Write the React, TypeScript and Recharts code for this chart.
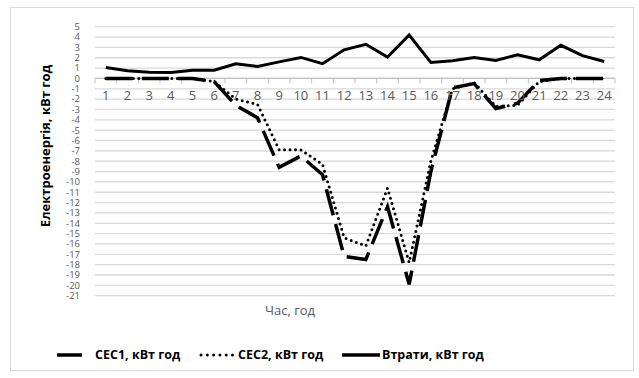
import { LineChart, Line, XAxis, YAxis, CartesianGrid, ReferenceLine, ReferenceDot } from 'recharts'

const HOURS = ['1', '2', '3', '4', '5', '6', '7', '8', '9', '10', '11', '12', '13', '14', '15', '16', '17', '18', '19', '20', '21', '22', '23', '24']

const CEC1 = [0, 0, 0, 0, 0, -0.3, -2.6, -3.8, -8.6, -7.5, -9.3, -17.2, -17.5, -12.4, -19.9, -9, -0.9, -0.5, -2.9, -2.4, -0.2, 0, 0, 0]
const CEC2 = [0, 0, 0, 0, 0, -0.3, -2.0, -2.5, -6.9, -6.9, -8.3, -15.4, -16.2, -10.6, -17.8, -8, -1, -0.4, -2.7, -2.6, -0.3, 0, 0, 0]
const LOSSES = [1.06, 0.74, 0.6, 0.58, 0.8, 0.8, 1.42, 1.16, 1.6, 2.03, 1.42, 2.77, 3.3, 2.07, 4.2, 1.55, 1.7, 2.03, 1.74, 2.29, 1.8, 3.2, 2.2, 1.64]

const Y_TICKS = [5, 4, 3, 2, 1, 0, -1, -2, -3, -4, -5, -6, -7, -8, -9, -10, -11, -12, -13, -14, -15, -16, -17, -18, -19, -20, -21]

const LABELS = {
  cec1: 'СЕС1, кВт год',
  cec2: 'СЕС2, кВт год',
  losses: 'Втрати, кВт год',
}

const FONT = "'Open Sans', 'Noto Sans', sans-serif"
const GRAY = '#595959'

const data = HOURS.map((h, i) => ({
  hour: h,
  cec1: CEC1[i],
  cec2: CEC2[i],
  losses: LOSSES[i],
}))

// zero line with small category tick marks hanging below it
function ZeroAxis(props: any) {
  const { x1, y1, x2, y2 } = props
  if (x1 == null) return null
  const n = HOURS.length
  const step = (x2 - x1) / n
  const marks = []
  for (let i = 0; i <= n; i++) {
    const x = x1 + step * i
    marks.push(<line key={i} x1={x} x2={x} y1={y1} y2={y1 + 5} stroke="#bfbfbf" strokeWidth={1} />)
  }
  return (
    <g>
      <line x1={x1} y1={y1} x2={x2} y2={y2} stroke="#bfbfbf" strokeWidth={1.3} />
      {marks}
    </g>
  )
}

function LegendItem({ kind, label, left }: { kind: string; label: string; left: number }) {
  let icon
  if (kind === 'cec1') {
    icon = (
      <svg width={30} height={8}>
        <line x1={2} y1={4} x2={27} y2={4} stroke="#000" strokeWidth={3.5} />
      </svg>
    )
  } else if (kind === 'cec2') {
    icon = (
      <svg width={40} height={8}>
        <line x1={3} y1={4} x2={38} y2={4} stroke="#000" strokeWidth={3} strokeDasharray="0 6.3" strokeLinecap="round" />
      </svg>
    )
  } else {
    icon = (
      <svg width={40} height={8}>
        <line x1={0} y1={4} x2={38} y2={4} stroke="#000" strokeWidth={3.5} />
      </svg>
    )
  }
  return (
    <div style={{ position: 'absolute', left, top: 346, display: 'flex', alignItems: 'center', gap: kind === 'cec1' ? 10 : 0 }}>
      {icon}
      <span style={{ fontFamily: FONT, fontWeight: 700, fontSize: 12.5, color: '#000', whiteSpace: 'nowrap' }}>{label}</span>
    </div>
  )
}

export default function App() {
  return (
    <div style={{ position: 'absolute', left: 0, top: 0, width: 639, height: 378, background: '#fff', overflow: 'hidden' }}>
      <div style={{ position: 'absolute', left: 10, top: 7, width: 624, height: 364, border: '1px solid #d9d9d9', boxSizing: 'border-box' }} />
      <div style={{ position: 'absolute', left: 0, top: 0 }}>
        <LineChart width={639} height={378} data={data} margin={{ top: 26.7, right: 24, bottom: 82.3, left: 0 }}>
          <CartesianGrid vertical={false} stroke="#d9d9d9" strokeWidth={1.3} />
          <XAxis dataKey="hour" scale="band" hide />
          <YAxis
            width={95}
            domain={[-21, 5]}
            ticks={Y_TICKS}
            interval={0}
            axisLine={false}
            tickLine={false}
            tickMargin={9}
            tick={{ fill: GRAY, fontSize: 9.5, fontFamily: FONT }}
          />
          <ReferenceLine y={0} shape={ZeroAxis} />
          {HOURS.map((h) => (
            <ReferenceDot
              key={h}
              x={h}
              y={0}
              r={0}
              fill="none"
              stroke="none"
              label={{ value: h, position: 'bottom', offset: 12, fill: GRAY, fontSize: 13, fontFamily: FONT }}
            />
          ))}
          <Line
            dataKey="cec1"
            name={LABELS.cec1}
            stroke="#000"
            strokeWidth={3.5}
            strokeDasharray="27 9"
            dot={false}
            isAnimationActive={false}
          />
          <Line
            dataKey="cec2"
            name={LABELS.cec2}
            stroke="#000"
            strokeWidth={3}
            strokeDasharray="0 5.5"
            strokeLinecap="round"
            dot={false}
            isAnimationActive={false}
          />
          <Line
            dataKey="losses"
            name={LABELS.losses}
            stroke="#000"
            strokeWidth={3}
            strokeLinejoin="miter"
            dot={false}
            isAnimationActive={false}
          />
        </LineChart>
      </div>
      <div
        style={{
          position: 'absolute',
          left: 45,
          top: 146,
          transform: 'translate(-50%, -50%) rotate(-90deg)',
          fontFamily: FONT,
          fontWeight: 700,
          fontSize: 13,
          color: '#000',
          whiteSpace: 'nowrap',
        }}
      >
        Електроенергія, кВт год
      </div>
      <div
        style={{
          position: 'absolute',
          left: 290,
          top: 310,
          transform: 'translate(-50%, -50%)',
          fontFamily: FONT,
          fontSize: 13,
          color: GRAY,
          whiteSpace: 'nowrap',
        }}
      >
        Час, год
      </div>
      <LegendItem kind="cec1" label={LABELS.cec1} left={55} />
      <LegendItem kind="cec2" label={LABELS.cec2} left={198} />
      <LegendItem kind="losses" label={LABELS.losses} left={342} />
    </div>
  )
}
